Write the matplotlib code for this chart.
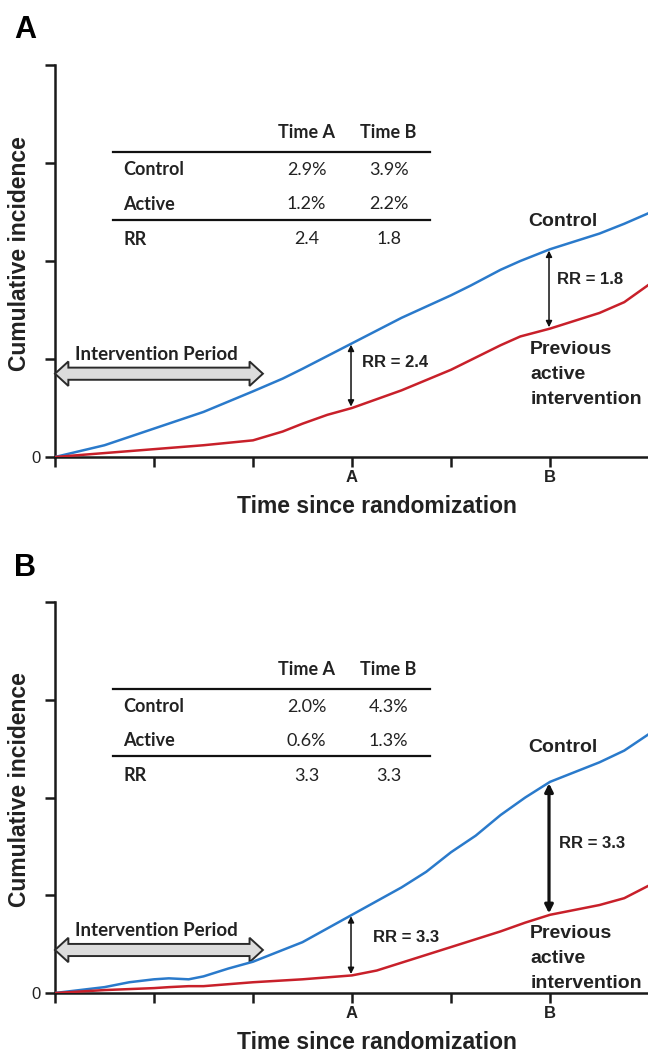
import matplotlib
matplotlib.use("Agg")
import matplotlib.pyplot as plt
from matplotlib.patches import Polygon

# ---- data (y in tick units, 0..4) ----
x_a = [0, 0.5, 1, 1.5, 2, 2.3, 2.5, 2.75, 3, 3.5, 4, 4.2, 4.5, 4.7, 5, 5.5, 5.75, 6]
control_a = [0, 0.12, 0.29, 0.46, 0.67, 0.80, 0.90, 1.03, 1.16, 1.42, 1.65, 1.75,
             1.91, 2.00, 2.12, 2.28, 2.38, 2.49]
active_a = [0, 0.04, 0.08, 0.12, 0.17, 0.26, 0.34, 0.43, 0.50, 0.68, 0.89, 0.99,
            1.14, 1.23, 1.31, 1.47, 1.58, 1.76]

x_b = [0, 0.5, 0.75, 1, 1.15, 1.35, 1.5, 1.75, 2, 2.5, 3, 3.25, 3.5, 3.75, 4,
       4.25, 4.5, 4.75, 5, 5.25, 5.5, 5.75, 6]
control_b = [0, 0.06, 0.11, 0.14, 0.15, 0.14, 0.17, 0.25, 0.32, 0.52, 0.80, 0.94,
             1.08, 1.24, 1.44, 1.61, 1.82, 2.00, 2.16, 2.26, 2.36, 2.48, 2.65]
active_b = [0, 0.03, 0.04, 0.05, 0.06, 0.07, 0.07, 0.09, 0.11, 0.14, 0.18, 0.23,
            0.31, 0.39, 0.47, 0.55, 0.63, 0.72, 0.80, 0.85, 0.90, 0.97, 1.10]

x_ticks = [0, 1, 2, 3, 4, 5, 6]
x_tick_labels = ["", "", "", "A", "", "B", ""]
y_ticks = [0, 1, 2, 3, 4]
y_tick_labels = ["0", "", "", "", ""]

col_headers = ["Time A", "Time B"]
row_labels = ["Control", "Active", "RR"]
table_a = [["2.9%", "3.9%"], ["1.2%", "2.2%"], ["2.4", "1.8"]]
table_b = [["2.0%", "4.3%"], ["0.6%", "1.3%"], ["3.3", "3.3"]]
rr_a = ["RR = 2.4", "RR = 1.8"]
rr_b = ["RR = 3.3", "RR = 3.3"]

BLUE = "#2a7acb"
RED = "#c8202a"
TEXT = "#222222"
ARIAL = "Liberation Sans"
CALIBRI = "Lato"

plt.rcParams["font.family"] = ["Liberation Sans", "DejaVu Sans"]


def block_arrow(ax, x0, x1, yc, shaft=0.062, head=0.125, head_len=0.135):
    pts = [
        (x0, yc),
        (x0 + head_len, yc + head),
        (x0 + head_len, yc + shaft),
        (x1 - head_len, yc + shaft),
        (x1 - head_len, yc + head),
        (x1, yc),
        (x1 - head_len, yc - head),
        (x1 - head_len, yc - shaft),
        (x0 + head_len, yc - shaft),
        (x0 + head_len, yc - head),
    ]
    ax.add_patch(Polygon(pts, closed=True, facecolor="#dcdcdc",
                         edgecolor="#2b2b2b", linewidth=1.4, zorder=3,
                         clip_on=False))


def draw_panel(ax, xs, control, active, table, rr_labels, rr_pos, iv_y,
               lbl_ctrl_y, lbl_prev_y, bold_b_arrow):
    ax.plot(xs, control, color=BLUE, lw=1.8, zorder=4, solid_joinstyle="round")
    ax.plot(xs, active, color=RED, lw=1.8, zorder=4, solid_joinstyle="round")

    ax.set_xlim(0, 6)
    ax.set_ylim(0, 4)
    for s in ["top", "right"]:
        ax.spines[s].set_visible(False)
    for s in ["left", "bottom"]:
        ax.spines[s].set_linewidth(1.8)
        ax.spines[s].set_color("#1a1a1a")
    ax.set_xticks(x_ticks)
    ax.set_xticklabels(x_tick_labels, fontsize=12, fontweight="bold",
                       color=TEXT, family=ARIAL)
    ax.set_yticks(y_ticks)
    ax.set_yticklabels(y_tick_labels, fontsize=12, color=TEXT, family=ARIAL)
    ax.tick_params(axis="both", direction="out", length=7, width=1.8,
                   color="#1a1a1a", pad=2)
    ax.tick_params(axis="y", pad=3)

    ax.text(0.542, -0.126, "Time since randomization", transform=ax.transAxes,
            fontsize=16.5, fontweight="bold", color=TEXT, family=ARIAL,
            ha="center", va="center")
    ax.text(-0.059, 0.52, "Cumulative incidence", transform=ax.transAxes,
            rotation=90, fontsize=16.5, fontweight="bold", color=TEXT,
            family=ARIAL, ha="center", va="center")

    # RR arrows between curves at times A and B
    for t, lab, pos, lw, ms in zip([3, 5], rr_labels, rr_pos,
                                   [1.1, 2.3 if bold_b_arrow else 1.1],
                                   [9, 12 if bold_b_arrow else 9]):
        i = xs.index(t)
        ax.annotate("", xy=(t - 0.01, active[i]), xytext=(t - 0.01, control[i]),
                    arrowprops=dict(arrowstyle="<|-|>", color="#111111", lw=lw,
                                    mutation_scale=ms, shrinkA=1, shrinkB=1),
                    zorder=5)
        ax.text(pos[0], pos[1], lab, fontsize=12, fontweight="bold",
                color=TEXT, family=ARIAL, va="center", ha="left")

    ax.text(4.78, lbl_ctrl_y, "Control", fontsize=14, fontweight="bold",
            color=TEXT, family=ARIAL, va="center", ha="left")
    ax.text(4.80, lbl_prev_y, "Previous\nactive\nintervention", fontsize=14,
            fontweight="bold", color=TEXT, family=ARIAL, va="center", ha="left",
            linespacing=1.6)

    # intervention period block arrow
    block_arrow(ax, 0.0, 2.1, iv_y)
    ax.text(0.2, iv_y + 0.195, "Intervention Period", fontsize=13.5,
            fontweight="bold", color=TEXT, family=CALIBRI, va="center",
            ha="left")

    # summary table
    col_x = [2.54, 3.37]
    ax.text(col_x[0], 3.31, col_headers[0], fontsize=13, fontweight="bold",
            color=TEXT, family=CALIBRI, ha="center", va="center")
    ax.text(col_x[1], 3.31, col_headers[1], fontsize=13, fontweight="bold",
            color=TEXT, family=CALIBRI, ha="center", va="center")
    ax.plot([0.59, 3.79], [3.11, 3.11], color="#111111", lw=1.6)
    ax.plot([0.59, 3.79], [2.42, 2.42], color="#111111", lw=1.6)
    row_y = [2.93, 2.58, 2.22]
    for ry, name, vals in zip(row_y, row_labels, table):
        ax.text(0.69, ry, name, fontsize=13, fontweight="bold", color=TEXT,
                family=CALIBRI, ha="left", va="center")
        for cx, v in zip(col_x, vals):
            ax.text(cx, ry, v, fontsize=13, color=TEXT, family=CALIBRI,
                    ha="center", va="center")


fig = plt.figure(figsize=(6.48, 10.54), dpi=100)
ax_a = fig.add_axes([55 / 648, 597 / 1054, 594 / 648, 392 / 1054])
ax_b = fig.add_axes([55 / 648, 61 / 1054, 594 / 648, 391 / 1054])

draw_panel(ax_a, x_a, control_a, active_a, table_a, rr_a,
           [(3.1, 0.96), (5.07, 1.81)], 0.85, 2.40, 0.84, False)
draw_panel(ax_b, x_b, control_b, active_b, table_b, rr_b,
           [(3.21, 0.57), (5.09, 1.53)], 0.44, 2.51, 0.35, True)

fig.text(25 / 648, 1 - 30 / 1054, "A", fontsize=22, fontweight="bold",
         family=ARIAL, ha="center", va="center")
fig.text(25 / 648, 1 - 568 / 1054, "B", fontsize=22, fontweight="bold",
         family=ARIAL, ha="center", va="center")

fig.savefig("out.png", dpi=100, facecolor="white")
